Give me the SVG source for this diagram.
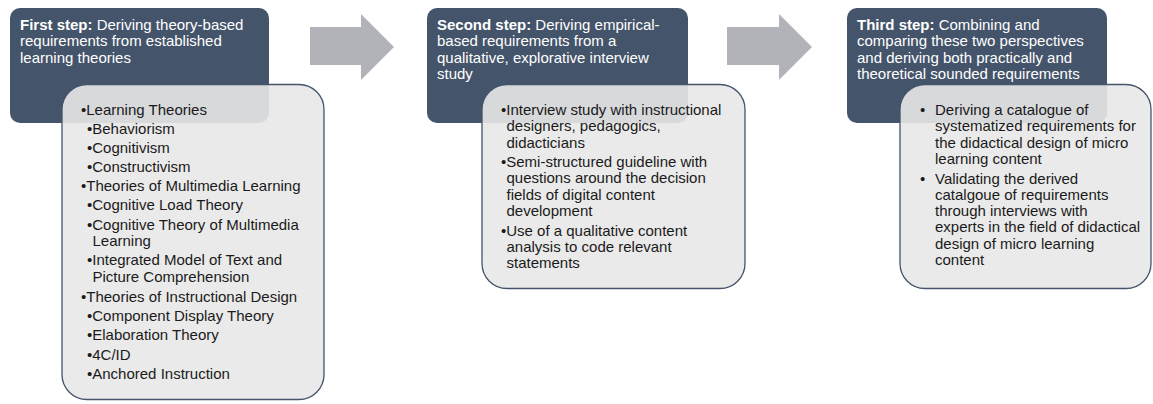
<svg xmlns="http://www.w3.org/2000/svg" width="1153" height="404" viewBox="0 0 1153 404">
<defs>
<style>
.dark{fill:#44546a;}
.light{fill:#e8e8e8;fill-opacity:0.9;stroke:#44546a;stroke-width:1.3;}
.arrow{fill:#b1b3b8;}
text{font-family:"Liberation Sans",Arial,sans-serif;font-size:15px;}
.title{fill:#ffffff;}
.body{fill:#1a1a1a;}
.b{font-weight:bold;}
</style>
</defs>
<rect width="1153" height="404" fill="#ffffff"/>
<g id="connectors">
<polygon class="arrow" points="310,27 361,27 361,14 394,47 361,80 361,65 310,65"/>
<polygon class="arrow" points="727,27 779,27 779,14 812,47 779,80 779,65 727,65"/>
</g>
<g id="step1">
<rect class="dark" x="10" y="8" width="259" height="115" rx="10"/>
<text class="title" x="20" y="29.5"><tspan class="b">First step:</tspan> Deriving theory-based</text>
<text class="title" x="20" y="46">requirements from established</text>
<text class="title" x="20" y="62.5">learning theories</text>
</g>
<g id="list1">
<rect class="light" x="62" y="84.5" width="262" height="315" rx="25"/>
<g class="body">
<text x="81" y="114.5">•Learning Theories</text>
<text x="87" y="133.5">•Behaviorism</text>
<text x="87" y="152.8">•Cognitivism</text>
<text x="87" y="172">•Constructivism</text>
<text x="81" y="191">•Theories of Multimedia Learning</text>
<text x="87" y="210">•Cognitive Load Theory</text>
<text x="87" y="229.5">•Cognitive Theory of Multimedia</text>
<text x="92.5" y="246">Learning</text>
<text x="87" y="265">•Integrated Model of Text and</text>
<text x="92.5" y="281.5">Picture Comprehension</text>
<text x="81" y="301.5">•Theories of Instructional Design</text>
<text x="87" y="321">•Component Display Theory</text>
<text x="87" y="340">•Elaboration Theory</text>
<text x="87" y="359.5">•4C/ID</text>
<text x="87" y="379">•Anchored Instruction</text>
</g>
</g>
<g id="step2">
<rect class="dark" x="427" y="8" width="261" height="115" rx="10"/>
<text class="title" x="437" y="29.5"><tspan class="b">Second step:</tspan> Deriving empirical-</text>
<text class="title" x="437" y="46">based requirements from a</text>
<text class="title" x="437" y="62.5">qualitative, explorative interview</text>
<text class="title" x="437" y="79">study</text>
</g>
<g id="list2">
<rect class="light" x="482" y="84.5" width="263" height="204" rx="25"/>
<g class="body">
<text x="501" y="115">•Interview study with instructional</text>
<text x="506.5" y="131.3">designers, pedagogics,</text>
<text x="506.5" y="147.6">didacticians</text>
<text x="501" y="167.1">•Semi-structured guideline with</text>
<text x="506.5" y="183.4">questions around the decision</text>
<text x="506.5" y="199.7">fields of digital content</text>
<text x="506.5" y="216">development</text>
<text x="501" y="235.5">•Use of a qualitative content</text>
<text x="506.5" y="251.8">analysis to code relevant</text>
<text x="506.5" y="268.1">statements</text>
</g>
</g>
<g id="step3">
<rect class="dark" x="847" y="8" width="260" height="115" rx="10"/>
<text class="title" x="857" y="29.5"><tspan class="b">Third step:</tspan> Combining and</text>
<text class="title" x="857" y="46">comparing these two perspectives</text>
<text class="title" x="857" y="62.5">and deriving both practically and</text>
<text class="title" x="857" y="79">theoretical sounded requirements</text>
</g>
<g id="list3">
<rect class="light" x="900" y="84.5" width="251" height="204" rx="25"/>
<g class="body">
<text x="920" y="115">•</text>
<text x="935" y="115">Deriving a catalogue of</text>
<text x="935" y="131.3">systematized requirements for</text>
<text x="935" y="147.6">the didactical design of micro</text>
<text x="935" y="164">learning content</text>
<text x="920" y="183.5">•</text>
<text x="935" y="183.5">Validating the derived</text>
<text x="935" y="199.8">catalgoue of requirements</text>
<text x="935" y="216">through interviews with</text>
<text x="935" y="232.4">experts in the field of didactical</text>
<text x="935" y="248.7">design of micro learning</text>
<text x="935" y="265">content</text>
</g>
</g>
</svg>
